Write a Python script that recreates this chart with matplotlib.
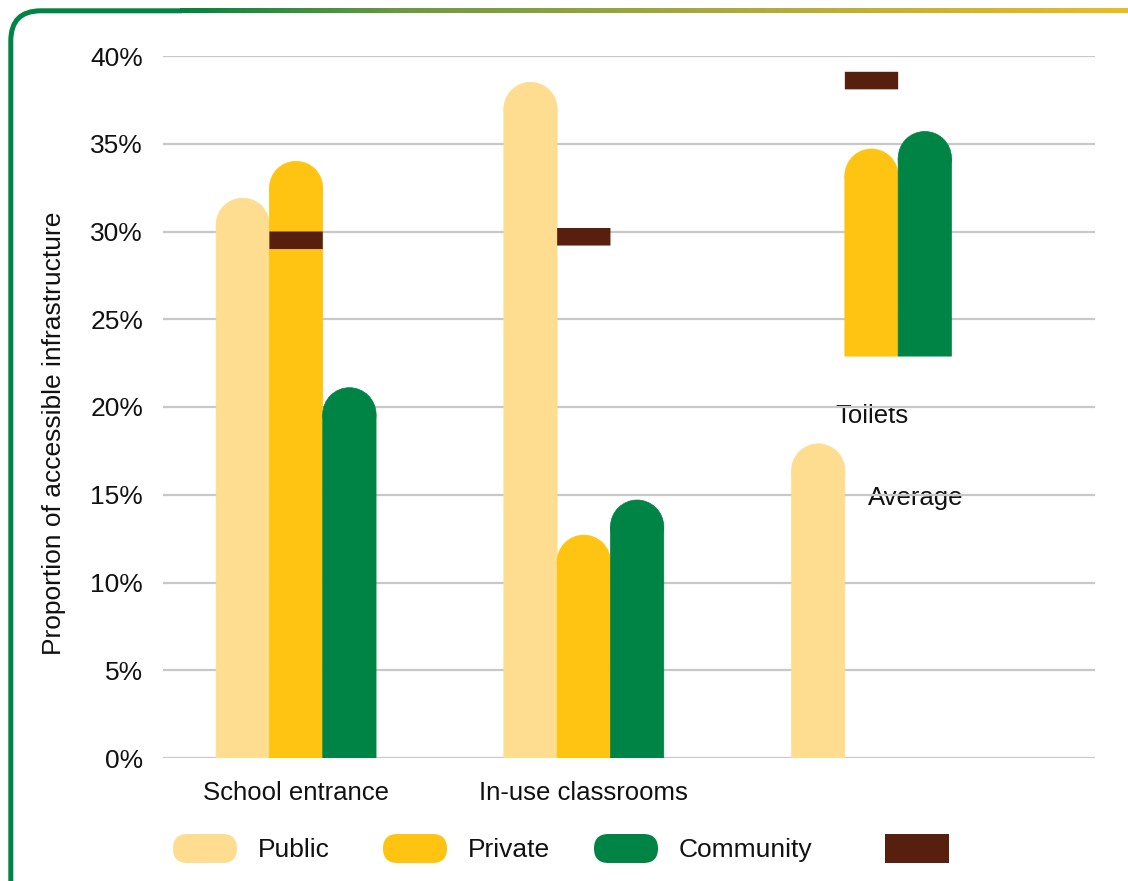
import numpy as np
import matplotlib
matplotlib.use("Agg")
import matplotlib.pyplot as plt
from matplotlib.patches import Ellipse, FancyBboxPatch, Rectangle, PathPatch
from matplotlib.path import Path
from matplotlib.transforms import IdentityTransform

plt.rcParams["font.family"] = ["Liberation Sans", "DejaVu Sans"]

# ---- data -------------------------------------------------------------
categories = ["School entrance", "In-use classrooms", "Toilets"]
series = ["Public", "Private", "Community"]
public = [31.9, 38.5, 17.9]
private = [34.0, 12.7, 34.7]
community = [21.1, 14.7, 35.7]
average = [29.5, 29.7, 38.6]
# where each bar starts (the toilets private/community bars float)
public_base = [0, 0, 0]
private_base = [0, 0, 22.9]
community_base = [0, 0, 22.9]
yticks = [0, 5, 10, 15, 20, 25, 30, 35, 40]
ytick_labels = [f"{v}%" for v in yticks]

# ---- style ------------------------------------------------------------
C_PUBLIC = "#FEDD91"
C_PRIVATE = "#FFC312"
C_COMMUNITY = "#008445"
C_AVERAGE = "#561F0E"
C_GRID = "#C8C8C8"
C_TEXT = "#111111"
FS = 19
EDGE_LW = 0.5  # thin same-colour outline closes anti-aliasing seams

W, H = 1128, 881
fig = plt.figure(figsize=(W / 100, H / 100), dpi=100)
fig.patch.set_facecolor("white")

ax = fig.add_axes([163 / W, 1 - 758 / H, (1095 - 163) / W, (758 - 56) / H])
xmin, xmax = -0.4626, 2.7768
ax.set_xlim(xmin, xmax)
ax.set_ylim(0, 40)

bar_w = 0.1853
x = np.arange(len(categories))
offsets = [-bar_w, 0.0, bar_w]

# radius of the rounded bar tops, expressed in y data units
ax_w_px = 1095 - 163
ax_h_px = 758 - 56
px_per_x = ax_w_px / (xmax - xmin)
px_per_y = ax_h_px / 40.0
cap_r = (bar_w * px_per_x / 2) / px_per_y


def capped_bar(xc, top, bottom, color):
    bars = ax.bar(xc, top - cap_r - bottom, width=bar_w, bottom=bottom,
                  color=color, edgecolor=color, linewidth=EDGE_LW, zorder=2)
    for b in bars:
        b.set_snap(False)
    ax.add_patch(Ellipse((xc, top - cap_r), bar_w, 2 * cap_r,
                         facecolor=color, edgecolor=color,
                         linewidth=EDGE_LW, zorder=2))


for vals, bases, color, off in zip(
        [public, private, community],
        [public_base, private_base, community_base],
        [C_PUBLIC, C_PRIVATE, C_COMMUNITY], offsets):
    for xi, v, b in zip(x, vals, bases):
        capped_bar(xi + off, v, b, color)

# average markers sit over the private bar slot
avg_bars = ax.bar(x + offsets[1], [1.0] * len(average),
                  bottom=[a - 0.5 for a in average], width=bar_w,
                  color=C_AVERAGE, linewidth=0, zorder=3)
for b in avg_bars:
    b.set_snap(False)

# axes styling
for s in ax.spines.values():
    s.set_visible(False)
ax.set_yticks(yticks)
ax.set_yticklabels(ytick_labels)
ax.set_xticks(x[:2])
ax.set_xticklabels(categories[:2])
ax.tick_params(axis="y", length=0, pad=14.4, labelsize=FS, labelcolor=C_TEXT)
ax.tick_params(axis="x", length=0, pad=16.5, labelsize=18.5, labelcolor=C_TEXT)
ax.yaxis.grid(True, color=C_GRID, linewidth=1.6)
ax.xaxis.grid(False)
ax.set_axisbelow(True)

# floating labels beside the toilets group
ax.text(x[2], 19.09, categories[2], ha="center", va="baseline",
        fontsize=18.5, color=C_TEXT, zorder=0.3)
ax.text(x[2] - 0.012, 14.42, "Average", ha="left", va="baseline",
        fontsize=18.5, color=C_TEXT, zorder=0.3)

fig.text(54 / W, 1 - 433.5 / H, "Proportion of accessible infrastructure",
         rotation=90, ha="center", va="center", fontsize=FS, color=C_TEXT)

# ---- legend -----------------------------------------------------------
ident = IdentityTransform()
legend_items = [("Public", C_PUBLIC, 173, True),
                ("Private", C_PRIVATE, 383, True),
                ("Community", C_COMMUNITY, 594, True),
                ("", C_AVERAGE, 885, False)]
key_w, key_h, key_top = 64, 29, 834
for label, color, lx, rounded in legend_items:
    if rounded:
        p = FancyBboxPatch((lx, H - key_top - key_h), key_w, key_h,
                           boxstyle=f"round,pad=0,rounding_size={key_h / 2}",
                           facecolor=color, edgecolor="none", transform=ident)
    else:
        p = Rectangle((lx, H - key_top - key_h), key_w, key_h,
                      facecolor=color, edgecolor="none", transform=ident)
    fig.add_artist(p)
    if label:
        fig.text((lx + key_w + 21) / W, 1 - 857 / H, label, ha="left",
                 va="baseline", fontsize=FS, color=C_TEXT)

# ---- frame: green left edge with rounded corner, gradient top edge ------
fy = 10.8
lw_px = 5.0
r = 30
gx0 = 180
verts = [(fy, 0), (fy, H - (fy + r)), (fy, H - fy), (fy + r, H - fy),
         (gx0 + 2, H - fy)]
codes = [Path.MOVETO, Path.LINETO, Path.CURVE3, Path.CURVE3, Path.LINETO]
fig.add_artist(PathPatch(Path(verts, codes), facecolor="none",
                         edgecolor=C_COMMUNITY, linewidth=lw_px * 0.72,
                         transform=ident, capstyle="butt"))

stops_x = [gx0, 400, 700, W]
stops_c = [(0x00, 0x84, 0x3D), (0x6A, 0x9A, 0x40), (0xA6, 0xA9, 0x3C),
           (0xED, 0xBC, 0x1E)]
gx = np.arange(gx0, W) + 0.5
grad = np.stack([np.interp(gx, stops_x, [c[k] for c in stops_c]) / 255
                 for k in range(3)], axis=1)[None, :, :]
gax = fig.add_axes([gx0 / W, 1 - (fy + lw_px / 2) / H, (W - gx0) / W, lw_px / H])
gax.imshow(grad, aspect="auto", interpolation="bilinear")
gax.set_axis_off()

fig.savefig("out.png", dpi=100, facecolor="white")
